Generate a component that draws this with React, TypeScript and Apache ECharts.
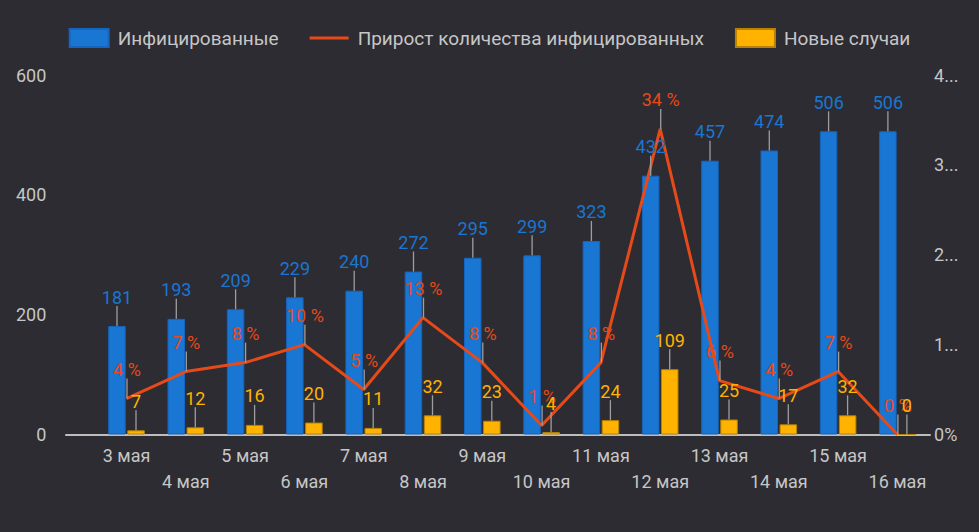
import React, { useEffect, useRef } from "react";
import * as echarts from "echarts";

const categories = ["3 мая", "4 мая", "5 мая", "6 мая", "7 мая", "8 мая", "9 мая", "10 мая", "11 мая", "12 мая", "13 мая", "14 мая", "15 мая", "16 мая"];
const infected = [181, 193, 209, 229, 240, 272, 295, 299, 323, 432, 457, 474, 506, 506];
const growthPct = [4, 7, 8, 10, 5, 13, 8, 1, 8, 34, 6, 4, 7, 0];
const newCases = [7, 12, 16, 20, 11, 32, 23, 4, 24, 109, 25, 17, 32, 0];
const leftTicks = [0, 200, 400, 600];
const rightTickLabels = ["0%", "1...", "2...", "3...", "4..."];

const BG = "#2d2c32";
const BLUE = "#1976d2";
const ORANGE = "#e64a19";
const AMBER = "#ffb300";
const TEXT = "#c6c6c6";
const FONT = "Roboto";

const LINE_ICON = "path://M0,0L0.01,0L0.01,0.01ZM0,7.5L39,7.5L39,10.5L0,10.5ZM0,18L0.01,18L0.01,17.99Z";

function annot(offset: number, color: string, suffix: string) {
  return (params: any, api: any) => {
    const i = api.value(0);
    const v = api.value(1);
    const p = api.coord([i, v]);
    const x = p[0] + offset;
    const y = p[1];
    return {
      type: "group",
      children: [
        { type: "line", shape: { x1: x, y1: y, x2: x, y2: y - 20 }, style: { stroke: "#9e9e9e", lineWidth: 1.3 } },
        {
          type: "text",
          style: {
            x: x,
            y: y - 29,
            text: String(v) + suffix,
            fill: color,
            font: `18px ${FONT}`,
            textAlign: "center",
            textVerticalAlign: "middle",
          },
        },
      ],
    };
  };
}

export default function App() {
  const ref = useRef<HTMLDivElement>(null);
  useEffect(() => {
    if (!ref.current) return;
    const chart = echarts.init(ref.current, undefined, { renderer: "svg" });
    const idx = categories.map((_, i) => i);
    chart.setOption({
      animation: false,
      backgroundColor: BG,
      textStyle: { fontFamily: FONT },
      legend: {
        top: 28,
        left: "center",
        padding: 0,
        itemWidth: 39,
        itemHeight: 18,
        itemGap: 31,
        textStyle: { color: TEXT, fontSize: 19, lineHeight: 18, fontFamily: FONT, padding: [0, 0, 0, 4] },
        data: [
          { name: "Инфицированные", icon: "rect" },
          { name: "Прирост количества инфицированных", icon: LINE_ICON, itemStyle: { color: ORANGE, borderWidth: 0 } },
          { name: "Новые случаи", icon: "rect" },
        ],
      },
      grid: [
        { left: 96.85, right: 51.95, top: 75, bottom: 97.5 },
        { left: 66, right: 49, top: 75, bottom: 97.5 },
      ],
      xAxis: [
        {
          type: "category",
          gridIndex: 0,
          data: categories,
          axisLine: { show: false },
          axisTick: { show: false },
          axisLabel: {
            interval: 0,
            hideOverlap: false,
            color: TEXT,
            fontSize: 18,
            fontFamily: FONT,
            lineHeight: 25.5,
            margin: 8.5,
            formatter: (v: string, i: number) => (i % 2 === 1 ? "\n" + v : v),
          },
        },
        {
          type: "value",
          gridIndex: 1,
          min: 0,
          max: 1,
          axisLine: { show: true, onZero: false, lineStyle: { color: "#bdbdbd", width: 2 } },
          axisTick: { show: false },
          axisLabel: { show: false },
          splitLine: { show: false },
        },
      ],
      yAxis: [
        {
          type: "value",
          gridIndex: 0,
          min: leftTicks[0],
          max: leftTicks[leftTicks.length - 1],
          interval: 200,
          axisLine: { show: false },
          axisTick: { show: false },
          splitLine: { show: false },
          axisLabel: { color: TEXT, fontSize: 18, fontFamily: FONT, margin: 50.5 },
        },
        {
          type: "value",
          gridIndex: 0,
          position: "right",
          min: 0,
          max: 40,
          interval: 10,
          axisLine: { show: false },
          axisTick: { show: false },
          splitLine: { show: false },
          axisLabel: {
            color: TEXT,
            fontSize: 18,
            fontFamily: FONT,
            margin: 7,
            formatter: (v: number) => rightTickLabels[Math.round(v / 10)],
          },
        },
        { type: "value", gridIndex: 1, min: 0, max: 1, show: false },
      ],
      series: [
        {
          name: "Инфицированные",
          type: "bar",
          data: infected,
          barWidth: 17.5,
          barGap: "9%",
          itemStyle: { color: BLUE, borderColor: "#1565c0", borderWidth: 1 },
          z: 2,
        },
        {
          name: "Прирост количества инфицированных",
          type: "line",
          yAxisIndex: 1,
          data: growthPct,
          symbol: "none",
          lineStyle: { color: ORANGE, width: 3 },
          itemStyle: { color: ORANGE },
          z: 4,
        },
        {
          name: "Новые случаи",
          type: "bar",
          data: newCases,
          barWidth: 17.5,
          barGap: "9%",
          itemStyle: { color: AMBER, borderColor: "#b88300", borderWidth: 1 },
          z: 2,
        },
        {
          name: "annInf",
          type: "custom",
          data: idx.map((i) => [i, infected[i]]),
          renderItem: annot(-9.5, BLUE, ""),
          z: 5,
          silent: true,
        },
        {
          name: "annGrowth",
          type: "custom",
          yAxisIndex: 1,
          data: idx.map((i) => [i, growthPct[i]]),
          renderItem: annot(0.5, ORANGE, " %"),
          z: 5,
          silent: true,
        },
        {
          name: "annNew",
          type: "custom",
          data: idx.map((i) => [i, newCases[i]]),
          renderItem: annot(9.5, AMBER, ""),
          z: 6,
          silent: true,
        },
      ],
    });
    return () => chart.dispose();
  }, []);
  return (
    <div
      ref={ref}
      style={{ position: "fixed", left: 0, top: 0, width: 979, height: 532 }}
    />
  );
}
